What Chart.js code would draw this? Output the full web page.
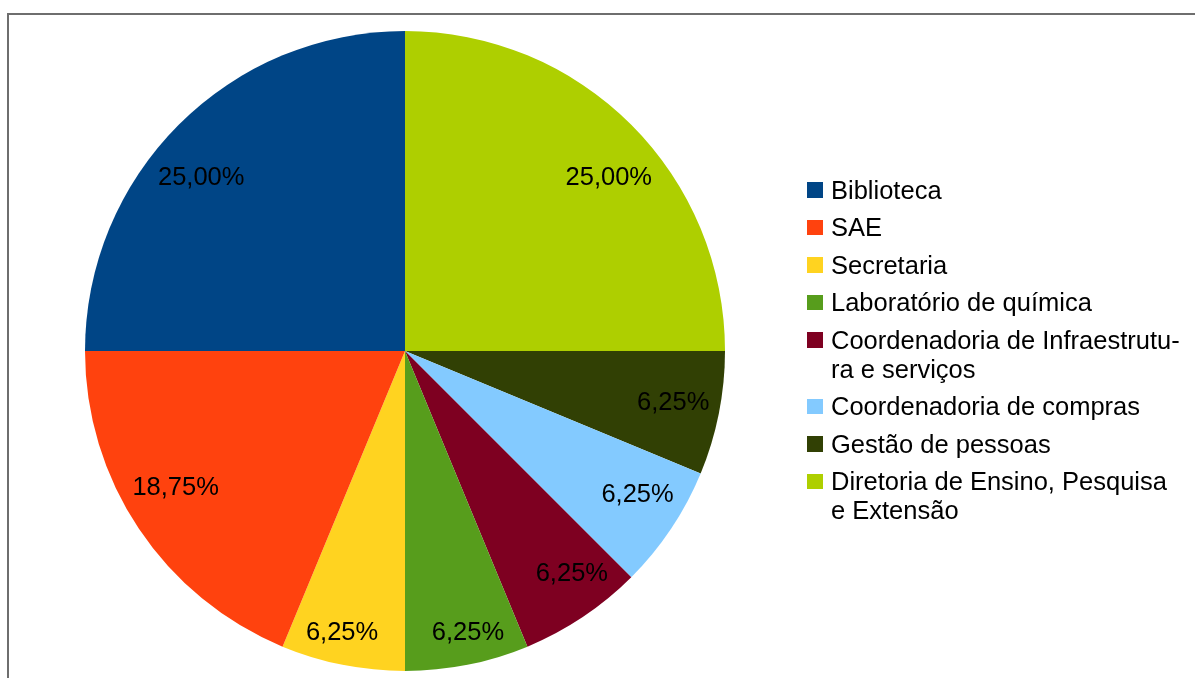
<!DOCTYPE html>
<html>
<head>
<meta charset="utf-8">
<script src="https://cdn.jsdelivr.net/npm/chart.js@4/dist/chart.umd.min.js"></script>
<style>
  html, body { margin: 0; padding: 0; background: #fff; overflow: hidden; }
  #stage { position: relative; width: 1195px; height: 678px; }
  #frame { position: absolute; left: 7px; top: 13px; width: 1200px; height: 700px;
           border-left: 2px solid #6e6e6e; border-top: 2px solid #6e6e6e; box-sizing: border-box; }
  #chartBox { position: absolute; left: 0; top: 0; width: 810px; height: 678px; }
  #legend { position: absolute; left: 807px; top: 175.7px; font-family: "Liberation Sans", Arial, sans-serif;
            font-size: 25.5px; color: #000; }
  .item { display: flex; align-items: flex-start; margin-bottom: 8.5px; }
  .sw { width: 15.5px; height: 15.5px; margin-top: 6.6px; flex: none; }
  .tx { margin-left: 8.5px; width: 353px; line-height: 29px; }
</style>
</head>
<body>
<div id="stage">
  <div id="frame"></div>
  <div id="chartBox"><canvas id="c" width="810" height="678"></canvas></div>
  <div id="legend"></div>
</div>
<script>
const categories = [
  'Biblioteca',
  'SAE',
  'Secretaria',
  'Laboratório de química',
  'Coordenadoria de Infraestrutu\u00ADra e serviços',
  'Coordenadoria de compras',
  'Gestão de pessoas',
  'Diretoria de Ensino, Pesquisa e Extensão'
];
const percentages = [25.00, 18.75, 6.25, 6.25, 6.25, 6.25, 6.25, 25.00];
const colors = ['#004586', '#ff420e', '#ffd320', '#579d1c', '#7e0021', '#83caff', '#314004', '#aecf00'];

// Slices run counter-clockwise from 12 o'clock in the original; Chart.js goes clockwise,
// so the dataset is fed in reverse order.
const revLabels = categories.slice().reverse();
const revValues = percentages.slice().reverse();
const revColors = colors.slice().reverse();

const FONT = '"Liberation Sans", Arial, sans-serif';
const FS = 25.5;

const labelPlugin = {
  id: 'pctLabels',
  afterDatasetsDraw(chart) {
    const ctx = chart.ctx;
    const meta = chart.getDatasetMeta(0);
    const ds = chart.data.datasets[0];
    ctx.save();
    ctx.font = FS + 'px ' + FONT;
    ctx.fillStyle = '#000';
    ctx.textAlign = 'center';
    ctx.textBaseline = 'alphabetic';
    const asc = 0.905 * FS, desc = 0.212 * FS, h = asc + desc;
    const cl = (v) => Math.max(-1, Math.min(1, v));
    meta.data.forEach((arc, i) => {
      const p = arc.getProps(['x', 'y', 'startAngle', 'endAngle', 'outerRadius'], true);
      const mid = (p.startAngle + p.endAngle) / 2;
      const ux = Math.cos(mid), uy = Math.sin(mid);
      const txt = ds.data[i].toFixed(2).replace('.', ',') + '%';
      const w = ctx.measureText(txt).width;
      const ox = (w / 2) * cl(Math.SQRT2 * ux);
      const oy = (h / 2) * cl(Math.SQRT2 * uy);
      const target = 0.972 * p.outerRadius;
      const box = (d) => {
        const cx = ux * d + ox, cy = uy * d + oy;
        return { x0: cx - w / 2, y0: cy - h / 2, x1: cx + w / 2, y1: cy + h / 2, cx, cy };
      };
      const far = (b) => Math.max(
        Math.hypot(b.x0, b.y0), Math.hypot(b.x1, b.y0),
        Math.hypot(b.x0, b.y1), Math.hypot(b.x1, b.y1));
      let lo = 0, hi = p.outerRadius;
      for (let it = 0; it < 40; it++) {
        const m = (lo + hi) / 2;
        if (far(box(m)) > target) hi = m; else lo = m;
      }
      const b = box(lo);
      ctx.fillText(txt, p.x + b.cx, p.y + b.y0 + asc);
    });
    ctx.restore();
  }
};

const chart = new Chart(document.getElementById('c'), {
  type: 'pie',
  data: {
    labels: revLabels,
    datasets: [{
      data: revValues,
      backgroundColor: revColors,
      borderWidth: 0
    }]
  },
  options: {
    responsive: false,
    animation: false,
    events: [],
    layout: { padding: { left: 85, right: 85, top: 31, bottom: 7 } },
    plugins: {
      legend: { display: false },
      tooltip: { enabled: false }
    }
  },
  plugins: [labelPlugin]
});

// Legend in the original order
const legend = document.getElementById('legend');
categories.forEach((name, i) => {
  const item = document.createElement('div');
  item.className = 'item';
  const sw = document.createElement('div');
  sw.className = 'sw';
  sw.style.background = colors[i];
  const tx = document.createElement('div');
  tx.className = 'tx';
  tx.textContent = name;
  item.appendChild(sw);
  item.appendChild(tx);
  legend.appendChild(item);
});
</script>
</body>
</html>
